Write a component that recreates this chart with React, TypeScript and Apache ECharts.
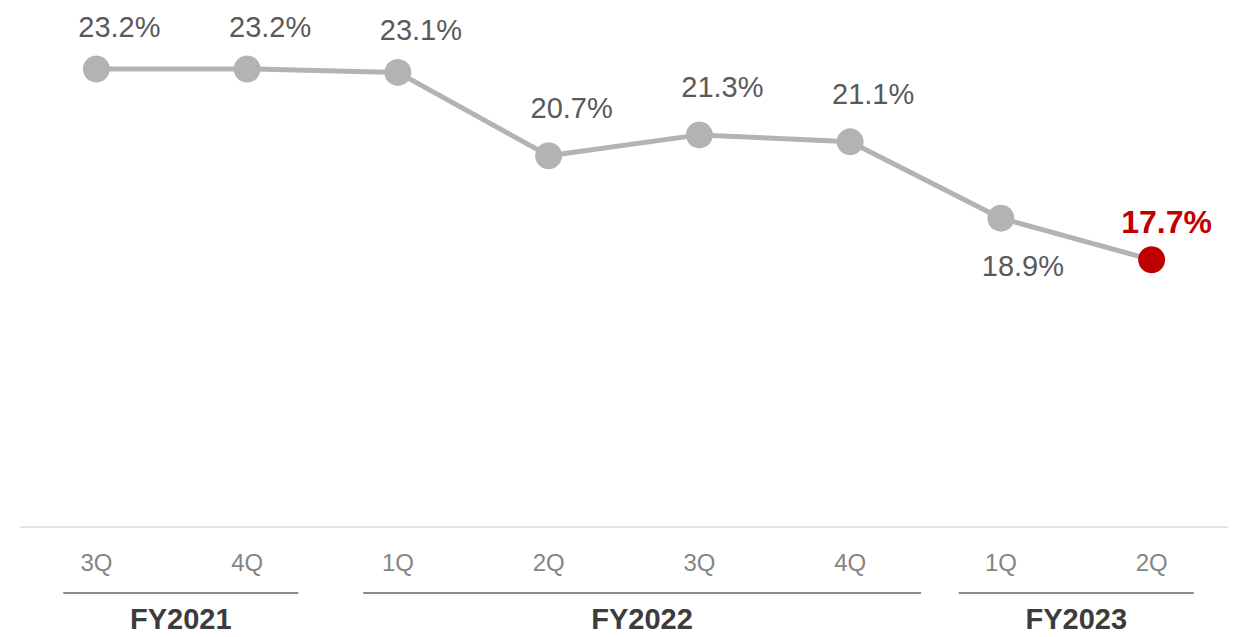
import React, { useEffect, useRef } from "react";
import * as echarts from "echarts";

const quarters = ["3Q", "4Q", "1Q", "2Q", "3Q", "4Q", "1Q", "2Q"];
const ratios = [23.2, 23.2, 23.1, 20.7, 21.3, 21.1, 18.9, 17.7];
const fiscalYears = ["FY2021", "FY2022", "FY2023"];
const groupFirstIndex = [0, 2, 6];
const groupLastIndex = [1, 5, 7];
// extension of each group underline beyond its first / last quarter, in category widths
const groupStartPad = [0.22, 0.23, 0.28];
const groupEndPad = [0.34, 0.47, 0.28];
const groupLabelShift = [0.06, 0.12, 0];

const FONT = "'Liberation Sans', Arial, Helvetica, sans-serif";

export default function App() {
  const ref = useRef<HTMLDivElement>(null);

  useEffect(() => {
    if (!ref.current) return;
    const chart = echarts.init(ref.current, null, { renderer: "svg" });
    const lastIdx = ratios.length - 1;
    const data = ratios.map((v, i) => {
      if (i === lastIdx) {
        return {
          value: v,
          itemStyle: { color: "#c00000" },
          symbolSize: 27,
          label: {
            color: "#c00000",
            fontWeight: "bold",
            fontSize: 32,
            distance: 8,
            offset: [15, 0],
          },
        };
      }
      if (i === lastIdx - 1) {
        return {
          value: v,
          label: { position: "bottom", distance: 20, offset: [22, 0] },
        };
      }
      if (i === 3 || i === 4 || i === 5) {
        return { value: v, label: { distance: 20 } };
      }
      return { value: v };
    });

    chart.setOption({
      animation: false,
      grid: { left: 21, right: 15, top: 6.5, bottom: 110, containLabel: false },
      xAxis: {
        type: "category",
        data: quarters,
        boundaryGap: true,
        axisLine: { lineStyle: { color: "#e2e2e2", width: 2 } },
        axisTick: { show: false },
        axisLabel: {
          color: "#858585",
          fontSize: 24,
          fontFamily: FONT,
          margin: 23,
        },
      },
      yAxis: {
        type: "value",
        min: 10,
        max: 25,
        show: false,
        splitLine: { show: false },
      },
      series: [
        {
          type: "line",
          data,
          symbol: "circle",
          symbolSize: 27,
          lineStyle: { color: "#b3b3b3", width: 5 },
          itemStyle: { color: "#b3b3b3" },
          label: {
            show: true,
            position: "top",
            distance: 14,
            offset: [23, 0],
            formatter: (p: any) => `${p.value}%`,
            color: "#5a5a5a",
            fontSize: 29,
            fontFamily: FONT,
          },
        },
      ],
    });

    const px = (i: number) => chart.convertToPixel({ xAxisIndex: 0 }, i) as number;
    const band = px(1) - px(0);
    const elements: any[] = [];
    fiscalYears.forEach((fy, g) => {
      const a = px(groupFirstIndex[g]) - groupStartPad[g] * band;
      const b = px(groupLastIndex[g]) + groupEndPad[g] * band;
      elements.push({
        type: "line",
        shape: { x1: a, y1: 593, x2: b, y2: 593 },
        style: { stroke: "#8c8c8c", lineWidth: 2 },
      });
      const mid = (px(groupFirstIndex[g]) + px(groupLastIndex[g])) / 2 + groupLabelShift[g] * band;
      elements.push({
        type: "text",
        x: mid,
        y: 619,
        style: {
          text: fy,
          fill: "#3c3c3c",
          font: `bold 29px ${FONT}`,
          textAlign: "center",
          textVerticalAlign: "middle",
        },
      });
    });
    chart.setOption({ graphic: elements });

    return () => chart.dispose();
  }, []);

  return (
    <div
      ref={ref}
      style={{ position: "fixed", left: 0, top: 0, width: 1242, height: 637, background: "#fff" }}
    />
  );
}
